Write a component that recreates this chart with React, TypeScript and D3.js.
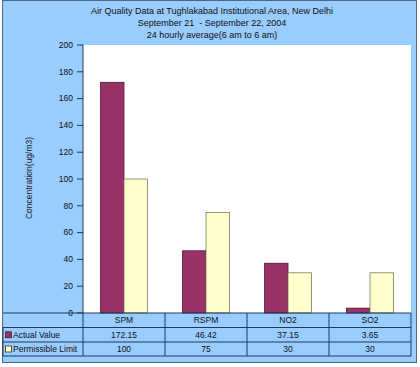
import React from 'react'
import { scaleBand, scaleLinear } from 'd3'

const categories = ['SPM', 'RSPM', 'NO2', 'SO2']
const actualValues = [172.15, 46.42, 37.15, 3.65]
const permissibleLimits = [100, 75, 30, 30]
const seriesNames = ['Actual Value', 'Permissible Limit']
const yTicks = [0, 20, 40, 60, 80, 100, 120, 140, 160, 180, 200]
const titleLines = [
  'Air Quality Data at Tughlakabad Institutional Area, New Delhi',
  'September 21  - September 22, 2004',
  '24 hourly average(6 am to 6 am)',
]
const yLabel = 'Concentration(ug/m3)'

const WIDTH = 420
const HEIGHT = 367
const plot = { left: 83, right: 411, top: 45, bottom: 313 }
const tableRows = [313, 327.5, 342, 356]
const tableLeft = 3
const FONT = 'Liberation Sans, Arial, sans-serif'
const colors = ['#993366', '#FFFFCC']
const strokes = ['#4a1a33', '#7a7a60']
const gridColor = '#1f3a5a'

function App() {
  const x = scaleBand().domain(categories).range([plot.left, plot.right]).padding(0)
  const inner = scaleBand()
    .domain(seriesNames)
    .range([0, x.bandwidth()])
    .paddingInner(0)
    .paddingOuter(0.75)
  const y = scaleLinear().domain([0, 200]).range([plot.bottom, plot.top])
  const series = [actualValues, permissibleLimits]
  const rowMid = (i) => (tableRows[i] + tableRows[i + 1]) / 2

  return (
    <svg
      width={WIDTH}
      height={HEIGHT}
      style={{ position: 'fixed', left: 0, top: 0 }}
      fontFamily={FONT}
    >
      <rect x={0} y={0} width={WIDTH} height={HEIGHT} fill="#fff" />
      <rect x={2.5} y={0.5} width={414} height={362} fill="#99CCFF" stroke="#4a6a8a" />

      {titleLines.map((t, i) => (
        <text
          key={i}
          x={212}
          y={14 + i * 12}
          textAnchor="middle"
          fontSize={9}
          fill="#111"
          style={{ whiteSpace: 'pre' }}
        >
          {t}
        </text>
      ))}

      <text
        transform={`translate(32,${(plot.top + plot.bottom) / 2 - 1}) rotate(-90)`}
        textAnchor="middle"
        fontSize={8.5}
        fill="#222"
      >
        {yLabel}
      </text>

      <rect
        x={plot.left}
        y={plot.top}
        width={plot.right - plot.left}
        height={plot.bottom - plot.top}
        fill="#fff"
      />

      {categories.map((c, ci) =>
        series.map((vals, si) => (
          <rect
            key={`${c}-${si}`}
            x={x(c) + inner(seriesNames[si])}
            y={y(vals[ci])}
            width={inner.bandwidth()}
            height={y(0) - y(vals[ci])}
            fill={colors[si]}
            stroke={strokes[si]}
            strokeWidth={0.8}
          />
        ))
      )}

      <line x1={plot.left} x2={plot.left} y1={plot.top} y2={plot.bottom} stroke={gridColor} />
      {yTicks.map((t) => (
        <g key={t} transform={`translate(0,${y(t)})`}>
          <line x1={plot.left - 6} x2={plot.left} stroke={gridColor} />
          <text x={plot.left - 10} dy="0.32em" textAnchor="end" fontSize={8.5} fill="#111">
            {t}
          </text>
        </g>
      ))}

      {/* data table */}
      {tableRows.map((ry, i) => (
        <line key={i} x1={tableLeft} x2={plot.right} y1={ry} y2={ry} stroke={gridColor} />
      ))}
      <line x1={tableLeft} x2={tableLeft} y1={tableRows[1]} y2={tableRows[3]} stroke={gridColor} />
      <line x1={plot.left} x2={plot.left} y1={tableRows[0]} y2={tableRows[3]} stroke={gridColor} />
      {categories.map((c) => (
        <line
          key={c}
          x1={x(c) + x.bandwidth()}
          x2={x(c) + x.bandwidth()}
          y1={tableRows[0]}
          y2={tableRows[3]}
          stroke={gridColor}
        />
      ))}
      {categories.map((c, ci) => (
        <g key={c} fontSize={8.5} fill="#111" textAnchor="middle">
          <text x={x(c) + x.bandwidth() / 2} y={rowMid(0)} dy="0.35em">
            {c}
          </text>
          {series.map((vals, si) => (
            <text key={si} x={x(c) + x.bandwidth() / 2} y={rowMid(si + 1)} dy="0.35em">
              {vals[ci]}
            </text>
          ))}
        </g>
      ))}
      {seriesNames.map((name, si) => (
        <g key={name}>
          <rect
            x={5.5}
            y={rowMid(si + 1) - 3}
            width={6}
            height={6}
            fill={colors[si]}
            stroke={si === 0 ? '#4a1a33' : '#333'}
            strokeWidth={0.8}
          />
          <text x={13} y={rowMid(si + 1)} dy="0.35em" fontSize={8.5} fill="#111">
            {name}
          </text>
        </g>
      ))}
    </svg>
  )
}

export default App
